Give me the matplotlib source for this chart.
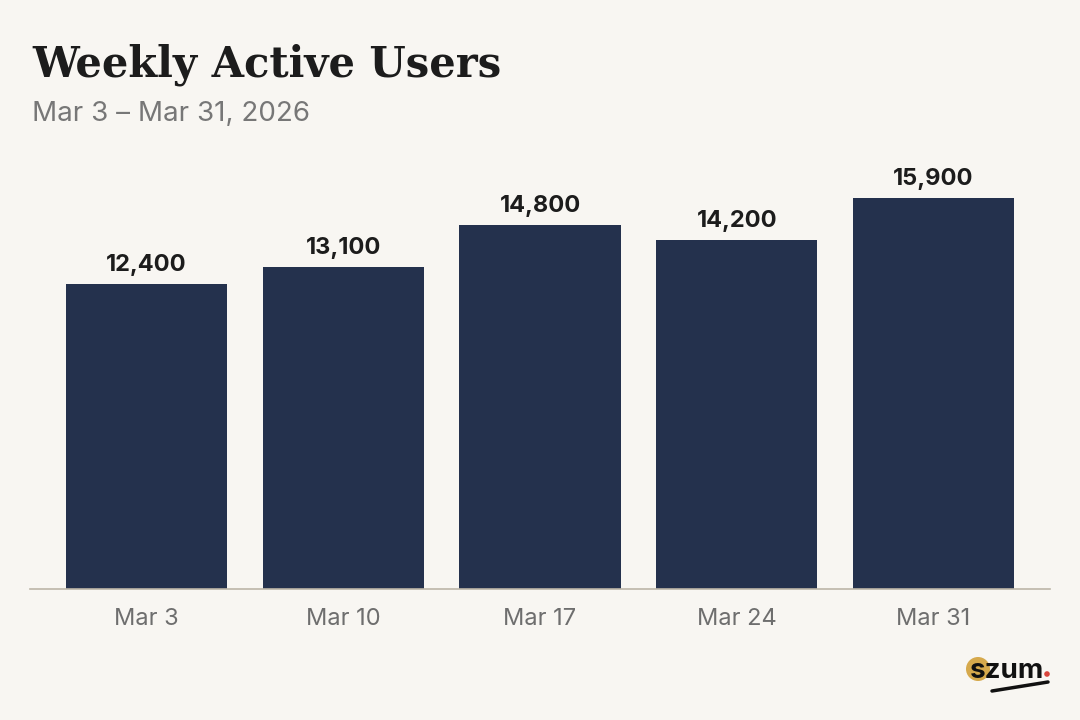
import matplotlib as mpl
mpl.use('Agg')
import matplotlib.pyplot as plt
from matplotlib.patches import Circle
from matplotlib.lines import Line2D

weeks = ["Mar 3", "Mar 10", "Mar 17", "Mar 24", "Mar 31"]
users = [12400, 13100, 14800, 14200, 15900]

bg = "#f8f6f2"
bar_color = "#24314d"

W, H = 1080, 720
fig = plt.figure(figsize=(W / 100, H / 100), dpi=100, facecolor=bg)

# axes placed in pixel terms: baseline at y=589, line spans x 30..1050
ax_bottom = 589
ax_top = 150
ax = fig.add_axes([30 / W, (H - ax_bottom) / H, 1020 / W, (ax_bottom - ax_top) / H])
ax.set_facecolor(bg)

x = list(range(len(weeks)))
ax.bar(x, users, width=0.82, color=bar_color, zorder=2)

px_per_unit = 391 / 15900
ax.set_ylim(0, (ax_bottom - ax_top) / px_per_unit)
ax.set_xlim(-0.5 - 18 / 197, 4.5 + 18 / 197)

for xi, v in zip(x, users):
    ax.annotate(f"{v:,}", (xi, v), xytext=(0, 8), textcoords="offset pixels",
                ha="center", va="bottom", fontsize=17, fontweight="bold",
                family="Inter", color="#1c1c1c")

for s in ["top", "right", "left"]:
    ax.spines[s].set_visible(False)
ax.spines["bottom"].set_color("#bdb6a8")
ax.spines["bottom"].set_linewidth(1.2)
ax.set_yticks([])
ax.set_xticks(x)
ax.set_xticklabels(weeks, family="Inter", fontsize=17, color="#6e6e6e")
ax.tick_params(axis="x", length=0, pad=14)

fig.text(32 / W, 1 - 77 / H, "Weekly Active Users", family="DejaVu Serif",
         fontweight="bold", fontsize=30, color="#1c1c1c", ha="left", va="baseline")
fig.text(32 / W, 1 - 121 / H, "Mar 3 \u2013 Mar 31, 2026", family="Inter",
         fontsize=20, color="#777777", ha="left", va="baseline")

# szum logo (positions in inches from bottom-left)
inch = fig.dpi_scale_trans
fig.patches.append(Circle((978 / 100, (H - 669) / 100), 0.12, transform=inch,
                          facecolor="#d6a94c", edgecolor="none", zorder=1))
fig.text(970 / W, 1 - 678 / H, "szum", family="Inter", fontweight="bold",
         fontsize=20, color="#111111", ha="left", va="baseline", zorder=2)
fig.patches.append(Circle((1047 / 100, (H - 674) / 100), 0.028, transform=inch,
                          facecolor="#d9453b", edgecolor="none"))
fig.lines.append(Line2D([992 / W, 1048 / W], [1 - 691 / H, 1 - 682 / H],
                        transform=fig.transFigure, color="#111111", linewidth=2.5,
                        solid_capstyle="round"))

fig.savefig("out.png", dpi=100, facecolor=bg)
